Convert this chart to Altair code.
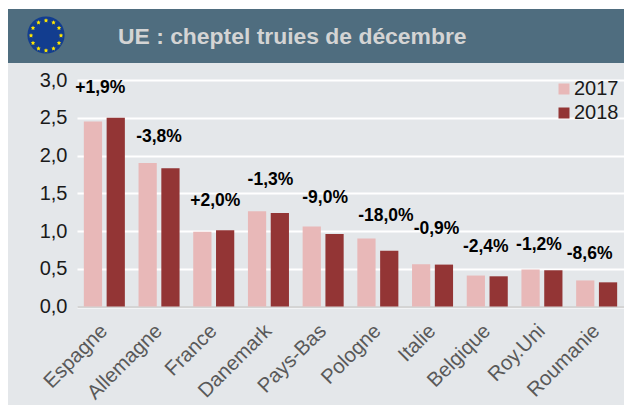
import altair as alt
import pandas as pd

pays = ["Espagne","Allemagne","France","Danemark","Pays-Bas","Pologne","Italie","Belgique","Roy.Uni","Roumanie"]
v2017 = [2.45,1.90,0.99,1.26,1.06,0.90,0.56,0.41,0.49,0.345]
v2018 = [2.50,1.83,1.01,1.24,0.96,0.74,0.555,0.40,0.48,0.32]
etiquettes = ["+1,9%","-3,8%","+2,0%","-1,3%","-9,0%","-18,0%","-0,9%","-2,4%","-1,2%","-8,6%"]
etiq_y = [2.90,2.25,1.40,1.68,1.44,1.20,1.03,0.79,0.82,0.70]
etiq_dx = [-4,0,1.5,2,2,8,4,-1.5,-3,-7]
titre = "UE : cheptel truies de décembre"
graduations = [0,0.5,1,1.5,2,2.5,3]

PW, PH = 547, 226.5
FONT = "Liberation Sans"

bars = pd.DataFrame(
    [{"pays":p,"annee":"2017","v":a} for p,a in zip(pays,v2017)] +
    [{"pays":p,"annee":"2018","v":b} for p,b in zip(pays,v2018)]
)
labs = pd.DataFrame({"pays":pays,"t":etiquettes,"y":etiq_y,"dx":etiq_dx})
one = pd.DataFrame({"a":[0]})

xs = alt.Scale(domain=pays, paddingInner=0.25, paddingOuter=0.125)
ys = alt.Scale(domain=[0,3], nice=False)

x_axis = alt.Axis(
    labelAngle=-45, labelAlign="right", labelBaseline="middle", labelFont=FONT, labelFontSize=20.4,
    labelColor="#595959", ticks=False, domain=True, domainColor="#d4d4d4", domainWidth=2,
    labelPadding=21, labelOverlap=False, labelBound=False, labelFlush=False, grid=False)
y_axis = alt.Axis(
    values=graduations, labelExpr="replace(format(datum.value,'.1f'),'.',',')",
    labelFont=FONT, labelFontSize=20, labelColor="#1a1a1a", ticks=False, domain=False, labelOverlap=False,
    grid=True, gridColor="#ffffff", gridWidth=2, labelPadding=10)

def box(x0,x1,y0,y1,color):
    return alt.Chart(one).mark_rect(color=color).encode(
        x=alt.value(x0), x2=alt.value(x1), y=alt.value(y0), y2=alt.value(y1))

white_top = box(-69,555,-72,-71,"#ffffff")
header = box(-69,555,-71,-17,"#4f6d7f")

title = alt.Chart(pd.DataFrame({"t":[titre]})).mark_text(
    font=FONT, fontSize=22.9, fontWeight="bold", color="#d4d4d4", align="left", baseline="middle"
).encode(x=alt.value(41), y=alt.value(-43.5), text="t:N")

flag_c = alt.Chart(one).mark_point(filled=True, color="#123d8f", opacity=1, size=1385, shape="circle").encode(
    x=alt.value(-31), y=alt.value(-45))
star_x = [46,53.5,59,61,59,53.5,46,38.5,33,31,33,38.5]
star_y = [20.5,22.5,28,35.5,43,48.5,50.5,48.5,43,35.5,28,22.5]
stars = alt.Chart(pd.DataFrame({"sx":[a-77 for a in star_x],"sy":[b-80 for b in star_y]})).mark_point(
    filled=True, color="#ffe600", opacity=1, size=22, shape="M0,-1L0.29,-0.4L0.95,-0.31L0.48,0.15L0.59,0.81L0,0.5L-0.59,0.81L-0.48,0.15L-0.95,-0.31L-0.29,-0.4Z"
).encode(x=alt.X("sx:Q", scale=None, axis=None), y=alt.Y("sy:Q", scale=None, axis=None))

bar = alt.Chart(bars).mark_bar(stroke=None).encode(
    x=alt.X("pays:N", scale=xs, sort=pays, title=None, axis=x_axis),
    xOffset=alt.XOffset("annee:N", scale=alt.Scale(paddingInner=0.2)),
    y=alt.Y("v:Q", scale=ys, title=None, axis=y_axis),
    color=alt.Color("annee:N", scale=alt.Scale(domain=["2017","2018"], range=["#e8b8b8","#933535"]),
        legend=alt.Legend(title=None, orient="none", legendX=477, legendY=-1, symbolType="square",
            symbolSize=121, symbolStrokeWidth=0, labelFont=FONT, labelFontSize=20, labelColor="#1a1a1a",
            rowPadding=4, labelOffset=0, padding=0, symbolOffset=0)),
)

texts = [
    alt.Chart(labs[labs.pays==p]).mark_text(font=FONT, fontSize=17.5, fontWeight="bold", color="#000000", dx=float(d)).encode(
        x=alt.X("pays:N", scale=xs, sort=pays, title=None, axis=x_axis),
        y=alt.Y("y:Q", scale=ys, title=None, axis=y_axis), text="t:N")
    for p,d in zip(pays,etiq_dx)
]

chart = alt.layer(white_top, header, flag_c, title, bar, *texts, stars).resolve_scale(color="independent").properties(
    width=PW, height=PH, background="#e4e7ea",
    padding={"left":69,"top":72,"right":0,"bottom":98},
    autosize=alt.AutoSizeParams(type="none"),
).configure_view(stroke=None)

chart.save("out.html", embed_options={"renderer":"svg","actions":False})
